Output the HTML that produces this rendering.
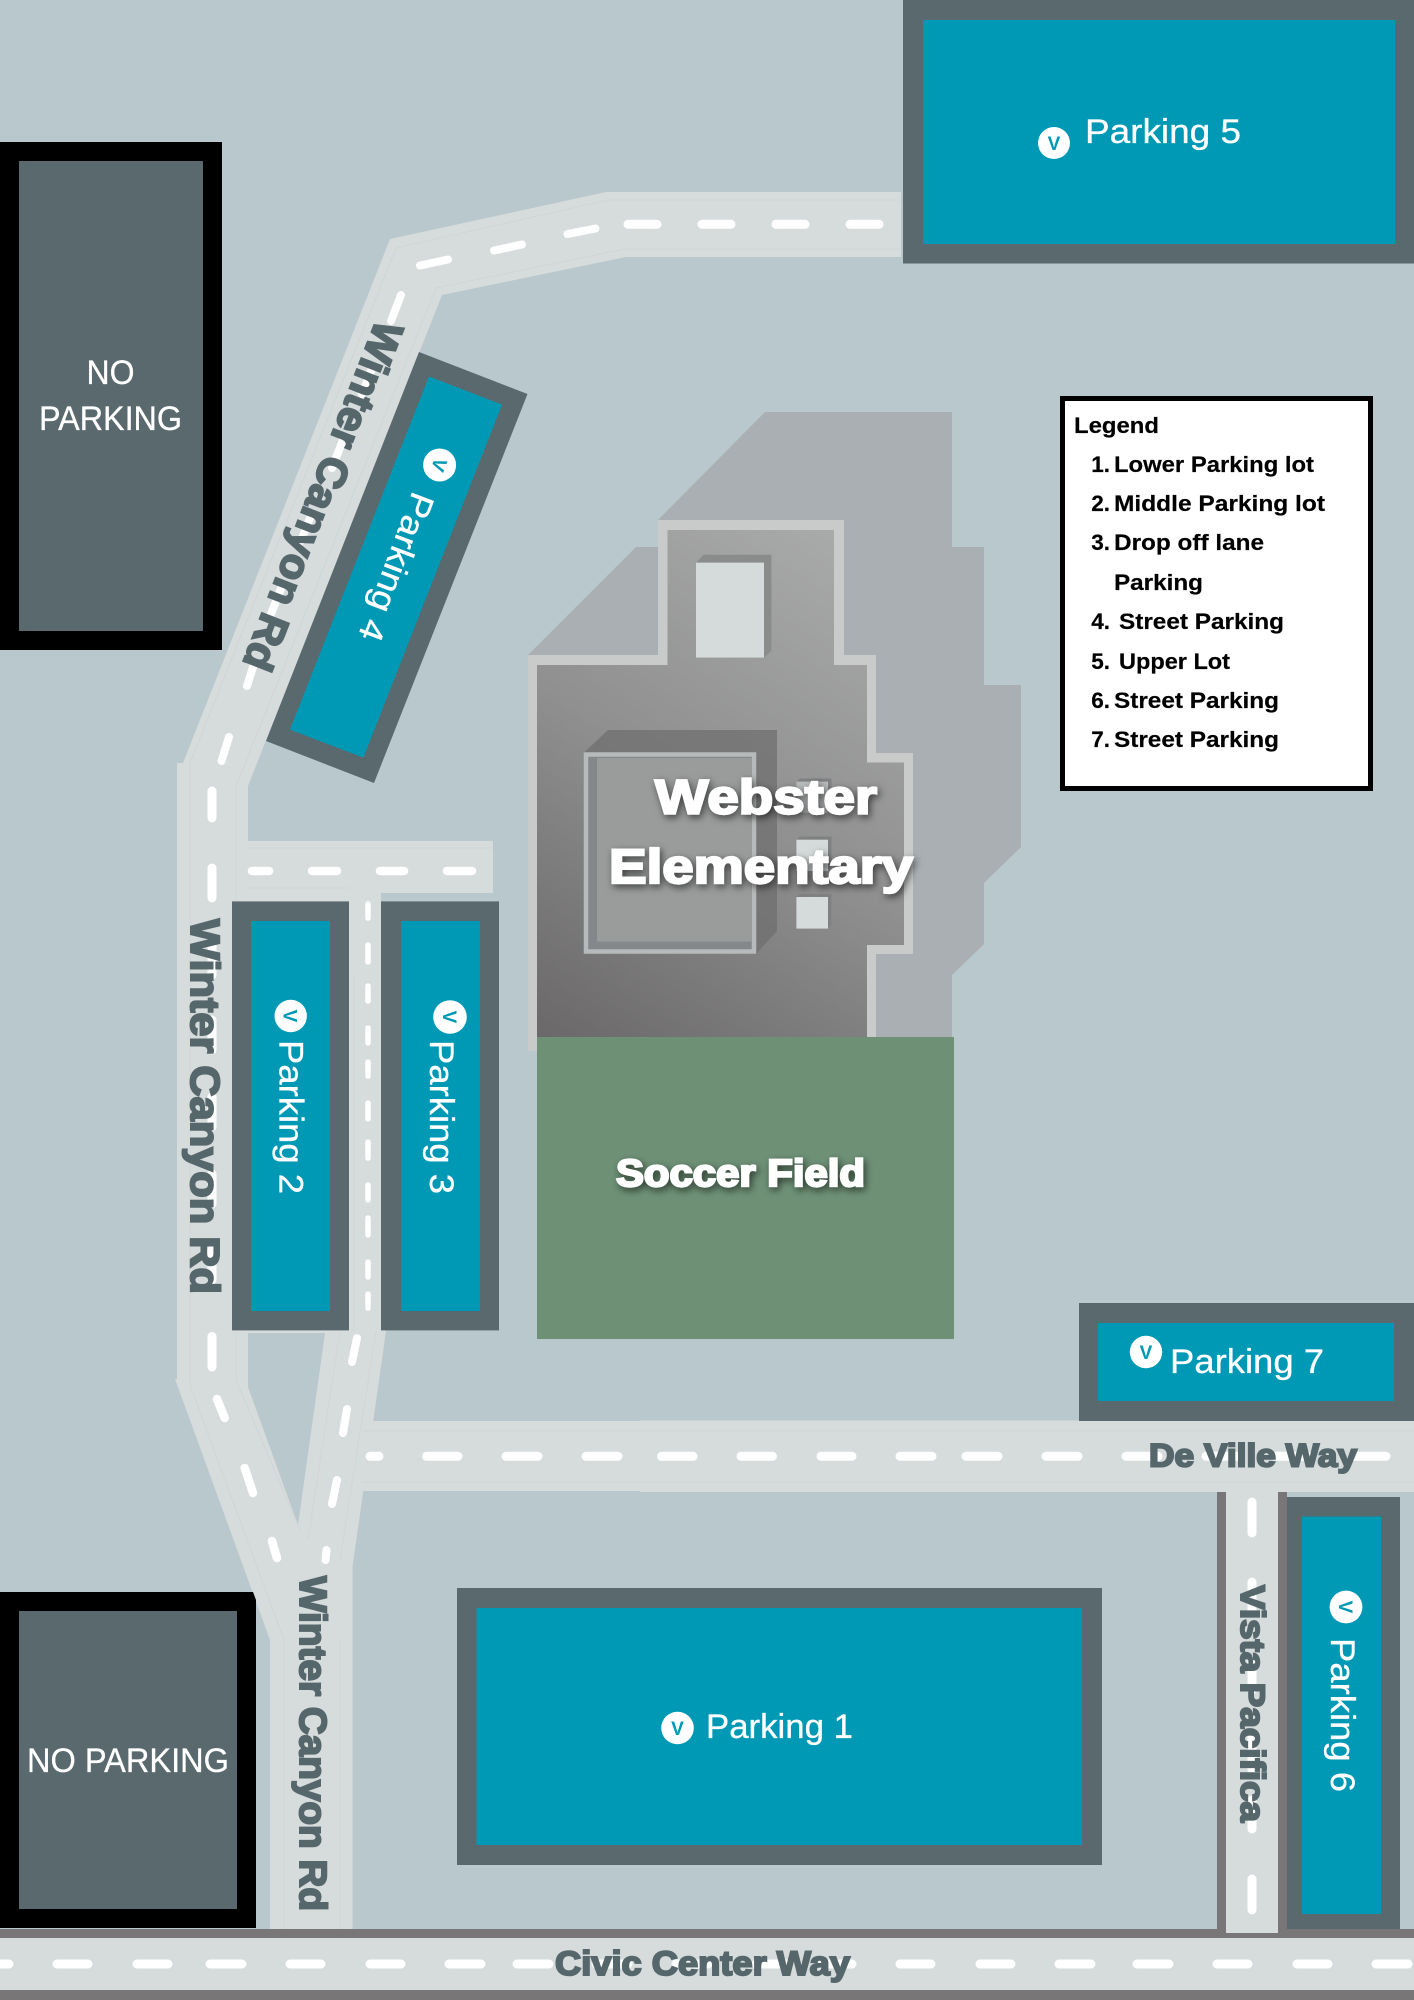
<!DOCTYPE html>
<html><head><meta charset="utf-8"><title>Webster Elementary Parking Map</title>
<style>
html,body{margin:0;padding:0;background:#b9c8cd}
svg{display:block}
text{font-family:"Liberation Sans",sans-serif}
.lab{fill:#fff;stroke:#fff;stroke-width:.3;font-size:34px}
.road{fill:#56676c;stroke:#56676c;stroke-width:2;font-weight:bold;paint-order:stroke}
.leg{font-size:22.5px;font-weight:bold;fill:#000;stroke:#000;stroke-width:.2}
.vv{fill:#0099b5;font-size:19px;font-weight:bold;text-anchor:middle}
.big{fill:#fff;stroke:#fff;stroke-width:2.2;font-weight:bold}
</style></head><body>
<svg xmlns="http://www.w3.org/2000/svg" width="1414" height="2000" viewBox="0 0 1414 2000">
<defs>
<linearGradient id="g" gradientUnits="userSpaceOnUse" x1="537" y1="1037" x2="860" y2="530"><stop offset="0" stop-color="#6a6868"/><stop offset=".5" stop-color="#909090"/><stop offset="1" stop-color="#aaabab"/></linearGradient>
<filter id="sh" x="-20%" y="-30%" width="140%" height="170%"><feDropShadow dx="2" dy="3" stdDeviation="4" flood-color="#000" flood-opacity=".6"/></filter>
</defs>
<rect width="1414" height="2000" fill="#b9c8cd"/>

<!-- building shadow -->
<polygon fill="#a9afb3" points="765,412 952,412 952,547 984,547 984,685 1021,685 1021,847 984,883 984,944 952,975 952,1037 528,1037 528,655 636,547 658,547 658,520"/>
<!-- building -->
<polygon fill="#c9caca" points="528,655 658,655 658,520 844,520 844,655 876,655 876,753 913,753 913,954 876,954 876,1037 537,1037 537,1051 528,1051"/>
<polygon fill="url(#g)" points="537,665 667.5,665 667.5,530 834,530 834,665 867,665 867,762.5 904,762.5 904,945 867,945 867,1037 537,1037"/>
<polygon fill="#6f6f6f" fill-opacity=".75" points="584,752.5 608,730 777,730 777,931 756,954"/>
<rect x="586" y="754.5" width="168" height="197" fill="#84888a" stroke="#b7baba" stroke-width="4.5"/>
<rect x="597" y="758" width="155" height="183.5" fill="#9a9c9c"/>
<polygon fill="#8a8b8b" points="696,562.6 703.6,554.8 771.4,554.8 771.4,651 764,657.5"/>
<rect x="696" y="562.6" width="68" height="95" fill="#d5dadb"/>
<polygon fill="#808182" points="796.4,781.6 800,778.5 831.5,778.5 831.5,809 828,812.8"/>
<rect x="796.4" y="781.6" width="31.6" height="31.2" fill="#b9bcbd"/>
<polygon fill="#808182" points="796.4,839.7 800,836.5 831.5,836.5 831.5,867 828,871"/>
<rect x="796.4" y="839.7" width="31.6" height="31.3" fill="#d5dadb"/>
<polygon fill="#808182" points="796.4,897 800,894 831.5,894 831.5,925 828,928.6"/>
<rect x="796.4" y="897" width="31.6" height="31.6" fill="#d5dadb"/>
<!-- soccer field -->
<rect x="537" y="1037" width="417" height="302" fill="#6e9176"/>

<!-- roads -->
<g fill="#d6dbdc">
<polygon points="901,192 606,192 390,239 183,763 177,763 177,1379 175,1379 270,1640 270,1929 352.5,1929 352.5,1567 362,1500 386,1331 381,893 493,893 493,841 248,841 248,786 442,295 626,257 901,257"/>
<rect x="349" y="893" width="32" height="440"/>
<polygon points="362,1421 640,1421 640,1420.5 1414,1420.5 1414,1492 640,1492 640,1491 358,1491"/>
</g>
<polygon fill="#b9c8cd" points="248,1387 248,1333 325,1333 298,1525"/>
<g fill="none" stroke="#d0d6d7" stroke-width="1">
<polyline points="901,200 608,200 396,248 190,763 190,1385 284,1640 284,1929"/>
<polyline points="901,249 624,249 436,288 236,786 236,1380 300,1530"/>
<polyline points="248,848 493,848"/><polyline points="248,888 349,888"/>
<polyline points="362,1431 1414,1431"/><polyline points="362,1482 1414,1482"/>
<line x1="340" y1="1331" x2="308" y2="1540"/><line x1="376" y1="1331" x2="340" y2="1560"/>
<line x1="340" y1="1640" x2="340" y2="1929"/>
<line x1="354" y1="975" x2="354" y2="1331"/>
</g>

<!-- Civic + Vista -->
<rect x="0" y="1929" width="1414" height="9" fill="#787677"/>
<rect x="0" y="1938" width="1414" height="52" fill="#d6dbdc"/>
<rect x="0" y="1990" width="1414" height="10" fill="#787677"/>
<rect x="1217" y="1492" width="9" height="437" fill="#787677"/>
<rect x="1226" y="1492" width="52" height="441" fill="#d6dbdc"/>
<rect x="1278" y="1492" width="9" height="437" fill="#787677"/>

<!-- dashes -->
<g stroke="#fff" fill="none" stroke-linecap="round">
<g stroke-width="9">
<path d="M-5,1964H9M57,1964H88M137,1964H168M210,1964H242M290,1964H321M370,1964H401M449,1964H481M517,1964H549M596,1964H628M676,1964H708M756,1964H788M820,1964H852M900,1964H931M980,1964H1011M1059,1964H1091M1137,1964H1169M1217,1964H1248M1297,1964H1328M1376,1964H1408"/>
<path d="M370,1456.3H379M426.5,1456.3H458M506,1456.3H538M586,1456.3H618M661.5,1456.3H693M741,1456.3H772.5M821,1456.3H852M900,1456.3H932M966,1456.3H998M1046,1456.3H1078M1126,1456.3H1158M1206,1456.3H1238M1276,1456.3H1308M1354,1456.3H1386"/>
<path d="M1252,1502V1533M1252,1582V1613M1252,1660V1690M1252,1738V1770M1252,1800V1829M1252,1879V1910"/>
<path d="M628,224.3H657M702,224.3H731M776,224.3H805M850,224.3H879"/>
<path d="M212,791V818M212,868V898M212,946V975M212,1020V1050M212,1097V1127M212,1174V1204M212,1250V1280M212,1336.5V1367"/>
</g>
<path stroke-width="8" d="M420,265.5L448,259.5M494,250.5L522,244.5M567.5,234L595.5,228.5"/>
<path stroke-width="8" d="M401,295L391,321M373,366L362,394M343,440L332,468M312,513L301,541M282,586L271,614M253,667L247,686M229,737L221.5,761"/>
<path stroke-width="8.5" d="M217,1399L224.7,1418M244.7,1468L253,1493M272,1541L277,1558"/>
<path stroke-width="8" d="M357,1338L352,1362M347,1409L343,1433M337,1480L332,1504M326.5,1550L325.5,1560"/>
<path stroke-width="8.5" d="M252,871H269M312,871H337M380,871H404M447,871H472"/>
<path stroke-width="5.5" d="M368,904V918M368,945V962M368,986V1001M368,1028V1043M368,1062V1076M368,1103V1119M368,1142V1158M368,1185V1200M368,1218V1235M368,1262V1277M368,1294V1308"/>
</g>

<!-- no parking -->
<rect x="0" y="142" width="222" height="508" fill="#000"/>
<rect x="19" y="161" width="184" height="470" fill="#59696e"/>
<text x="110.5" y="384" text-anchor="middle" class="lab" textLength="48" lengthAdjust="spacingAndGlyphs">NO</text>
<text x="110.5" y="430" text-anchor="middle" class="lab" textLength="143" lengthAdjust="spacingAndGlyphs">PARKING</text>
<polygon points="0,1592 253,1592 256,1600 256,1928 0,1928" fill="#000"/>
<rect x="19" y="1611" width="218" height="298" fill="#59696e"/>
<text x="27" y="1772" class="lab" textLength="202" lengthAdjust="spacingAndGlyphs">NO PARKING</text>

<!-- parking 5 -->
<rect x="903" y="0" width="511" height="263.5" fill="#59696e"/>
<rect x="923" y="20" width="472" height="224" fill="#0099b5"/>
<circle cx="1054" cy="143" r="16" fill="#fff"/><text x="1054" y="150" class="vv">V</text>
<text x="1085" y="143" class="lab" textLength="156" lengthAdjust="spacingAndGlyphs">Parking 5</text>
<!-- parking 4 -->
<polygon points="419,352 527.5,394 374,783 266,741" fill="#59696e"/>
<polygon points="429,376.5 502,404.6 363.4,757.6 290,729.6" fill="#0099b5"/>
<circle cx="439.6" cy="465" r="16.5" fill="#fff"/><text transform="translate(439.6,465) rotate(110.7)" y="7" class="vv">V</text>
<text transform="translate(413,490) rotate(110.7)" class="lab" textLength="156" lengthAdjust="spacingAndGlyphs">Parking 4</text>
<!-- parking 2 -->
<rect x="232" y="901.4" width="117" height="429" fill="#59696e"/>
<rect x="251" y="921" width="79" height="390" fill="#0099b5"/>
<circle cx="290.7" cy="1016" r="16.2" fill="#fff"/><text transform="translate(290.7,1016) rotate(90)" y="7" class="vv">V</text>
<text transform="translate(279.3,1040) rotate(90)" class="lab" textLength="154" lengthAdjust="spacingAndGlyphs">Parking 2</text>
<!-- parking 3 -->
<rect x="381" y="901.4" width="118" height="429" fill="#59696e"/>
<rect x="401" y="921" width="79" height="390" fill="#0099b5"/>
<circle cx="450" cy="1017" r="16.8" fill="#fff"/><text transform="translate(450,1017) rotate(90)" y="7" class="vv">V</text>
<text transform="translate(430,1040) rotate(90)" class="lab" textLength="154" lengthAdjust="spacingAndGlyphs">Parking 3</text>
<!-- parking 1 -->
<rect x="457" y="1588" width="645" height="277" fill="#59696e"/>
<rect x="476.5" y="1608" width="605.5" height="237" fill="#0099b5"/>
<circle cx="677.5" cy="1728" r="16.3" fill="#fff"/><text x="677.5" y="1735" class="vv">V</text>
<text x="706" y="1738" class="lab" textLength="147" lengthAdjust="spacingAndGlyphs">Parking 1</text>
<!-- parking 6 -->
<rect x="1287" y="1497" width="113" height="432" fill="#59696e"/>
<rect x="1302" y="1516.5" width="79" height="397.5" fill="#0099b5"/>
<circle cx="1346" cy="1607" r="16.4" fill="#fff"/><text transform="translate(1346,1607) rotate(90)" y="7" class="vv">V</text>
<text transform="translate(1331,1638) rotate(90)" class="lab" textLength="154" lengthAdjust="spacingAndGlyphs">Parking 6</text>
<!-- parking 7 -->
<rect x="1079" y="1303" width="335" height="118" fill="#59696e"/>
<rect x="1098" y="1323" width="296" height="78" fill="#0099b5"/>
<circle cx="1146" cy="1352" r="16.2" fill="#fff"/><text x="1146" y="1359" class="vv">V</text>
<text x="1170" y="1373" class="lab" textLength="154" lengthAdjust="spacingAndGlyphs">Parking 7</text>

<!-- road labels -->
<text class="road" font-size="42" transform="translate(377,318) rotate(111.3)" textLength="371" lengthAdjust="spacingAndGlyphs">Winter Canyon Rd</text>
<text class="road" font-size="41" transform="translate(191,919) rotate(90)" textLength="375" lengthAdjust="spacingAndGlyphs">Winter Canyon Rd</text>
<text class="road" font-size="38" transform="translate(300,1576) rotate(90)" textLength="335" lengthAdjust="spacingAndGlyphs">Winter Canyon Rd</text>
<text class="road" font-size="34" transform="translate(1241,1585) rotate(90)" textLength="237" lengthAdjust="spacingAndGlyphs">Vista Pacifica</text>
<text class="road" font-size="32" x="1149" y="1466.4" textLength="208" lengthAdjust="spacingAndGlyphs">De Ville Way</text>
<text class="road" font-size="34" x="555" y="1975" textLength="295" lengthAdjust="spacingAndGlyphs">Civic Center Way</text>

<!-- building labels -->
<g filter="url(#sh)">
<text class="big" font-size="48" x="655" y="813.6" textLength="222" lengthAdjust="spacingAndGlyphs">Webster</text>
<text class="big" font-size="48" x="609" y="883" textLength="304" lengthAdjust="spacingAndGlyphs">Elementary</text>
<text class="big" font-size="38" x="616" y="1186" textLength="249" lengthAdjust="spacingAndGlyphs">Soccer Field</text>
</g>

<!-- legend -->
<rect x="1062.5" y="398.5" width="308" height="390" fill="#fff" stroke="#000" stroke-width="5"/>
<g class="leg">
<text x="1074" y="433" textLength="85" lengthAdjust="spacingAndGlyphs">Legend</text>
<text x="1110" y="472" text-anchor="end">1.</text><text x="1114" y="472" textLength="200" lengthAdjust="spacingAndGlyphs">Lower Parking lot</text>
<text x="1110" y="511" text-anchor="end">2.</text><text x="1114" y="511" textLength="211" lengthAdjust="spacingAndGlyphs">Middle Parking lot</text>
<text x="1110" y="550" text-anchor="end">3.</text><text x="1114" y="550" textLength="150" lengthAdjust="spacingAndGlyphs">Drop off lane</text>
<text x="1114" y="590" textLength="89" lengthAdjust="spacingAndGlyphs">Parking</text>
<text x="1110" y="629" text-anchor="end">4.</text><text x="1119" y="629" textLength="165" lengthAdjust="spacingAndGlyphs">Street Parking</text>
<text x="1110" y="669" text-anchor="end">5.</text><text x="1119" y="669" textLength="111" lengthAdjust="spacingAndGlyphs">Upper Lot</text>
<text x="1110" y="708" text-anchor="end">6.</text><text x="1114" y="708" textLength="165" lengthAdjust="spacingAndGlyphs">Street Parking</text>
<text x="1110" y="747" text-anchor="end">7.</text><text x="1114" y="747" textLength="165" lengthAdjust="spacingAndGlyphs">Street Parking</text>
</g>
</svg>
</body></html>
